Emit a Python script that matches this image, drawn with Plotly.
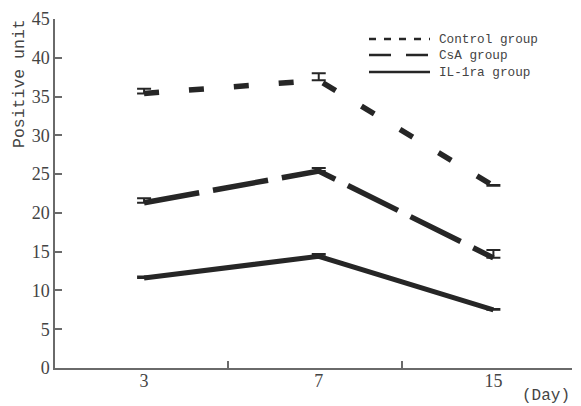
import plotly.graph_objects as go

days = ["3", "7", "15"]
xpos = [0, 1, 2]
control = [35.4, 37.1, 23.5]
control_err = [0.6, 0.9, 0.1]
csa = [21.3, 25.4, 14.2]
csa_err = [0.6, 0.4, 1.0]
il1ra = [11.6, 14.4, 7.5]
il1ra_err = [0.2, 0.3, 0.1]
yticks = [0, 5, 10, 15, 20, 25, 30, 35, 40, 45]
names = ["Control group", "CsA group", "IL-1ra group"]

INK = "#262626"
AX = "#6a6a6a"
TXT = "#444444"

fig = go.Figure()
series = [
    (control, control_err, "15px,30px", 5.5),
    (csa, csa_err, "56px,14px", 5.5),
    (il1ra, il1ra_err, "solid", 5),
]
for (vals, err, dash, w), nm in zip(series, names):
    fig.add_trace(go.Scatter(
        x=xpos, y=vals, mode="lines", name=nm, showlegend=False,
        line=dict(color=INK, width=w, dash=dash),
        error_y=dict(type="data", array=err, arrayminus=[0] * len(err), symmetric=False,
                     color=INK, thickness=2, width=7),
    ))
# invisible trace to carry the label axis
fig.add_trace(go.Scatter(x=xpos, y=[None] * 3, xaxis="x2", showlegend=False, hoverinfo="skip"))

OFF = 8  # page body margin
W, H = 581 - OFF, 406 - OFF
L, T = 55 - OFF, 19 - OFF
R = W - (572 - OFF)
B = H - (368 - OFF)
pw, ph = W - L - R, H - T - B

def px_x(px):
    return (px - OFF - L) / pw

def px_y(py):
    return (H - B - (py - OFF)) / ph

fig.update_layout(
    width=W, height=H,
    margin=dict(l=L, r=R, t=T, b=B, autoexpand=False),
    paper_bgcolor="white", plot_bgcolor="white",
    showlegend=False,
    xaxis=dict(range=[-0.51, 2.45], showline=True, linecolor=AX, linewidth=1.5, automargin=False,
               showgrid=False, zeroline=False, tickvals=[0.48, 1.474, 2.446],
               ticktext=["", "", ""], ticks="inside", ticklen=7, tickcolor=AX, tickwidth=1.5),
    xaxis2=dict(range=[-0.51, 2.45], overlaying="x", anchor="y", side="bottom", automargin=False,
                showline=False, showgrid=False, zeroline=False, ticks="",
                tickvals=xpos, ticktext=days,
                tickfont=dict(family="Liberation Serif", size=18, color=TXT)),
    yaxis=dict(range=[0, 45], tickvals=yticks, showline=True, linecolor=AX, linewidth=1.5,
               automargin=False,
               showgrid=False, zeroline=False, ticks="inside", ticklen=7, tickcolor=AX,
               tickwidth=1.5, tickfont=dict(family="Liberation Serif", size=18, color=TXT)),
)

# y title
fig.add_annotation(text="Positive unit", xref="paper", yref="paper",
                   x=px_x(20), y=px_y(84), xanchor="center", yanchor="middle",
                   textangle=-90, showarrow=False,
                   font=dict(family="Liberation Mono", size=16.5, color=TXT))
# x unit
fig.add_annotation(text="(Day)", xref="paper", yref="paper",
                   x=px_x(546), y=px_y(396), xanchor="center", yanchor="middle",
                   showarrow=False,
                   font=dict(family="Liberation Mono", size=16, color=TXT))

# legend
leg_rows = [(39, "7px,8px"), (55, "22px,15px"), (72, "solid")]
for (py, dash), nm in zip(leg_rows, names):
    fig.add_shape(type="line", xref="paper", yref="paper",
                  x0=px_x(369), x1=px_x(430), y0=px_y(py), y1=px_y(py),
                  line=dict(color=INK, width=2.5, dash=dash))
    fig.add_annotation(text=nm, xref="paper", yref="paper", x=px_x(437), y=px_y(py),
                       xanchor="left", yanchor="middle", showarrow=False,
                       font=dict(family="Liberation Mono", size=12.7, color=TXT))

fig.write_html("out.html")
